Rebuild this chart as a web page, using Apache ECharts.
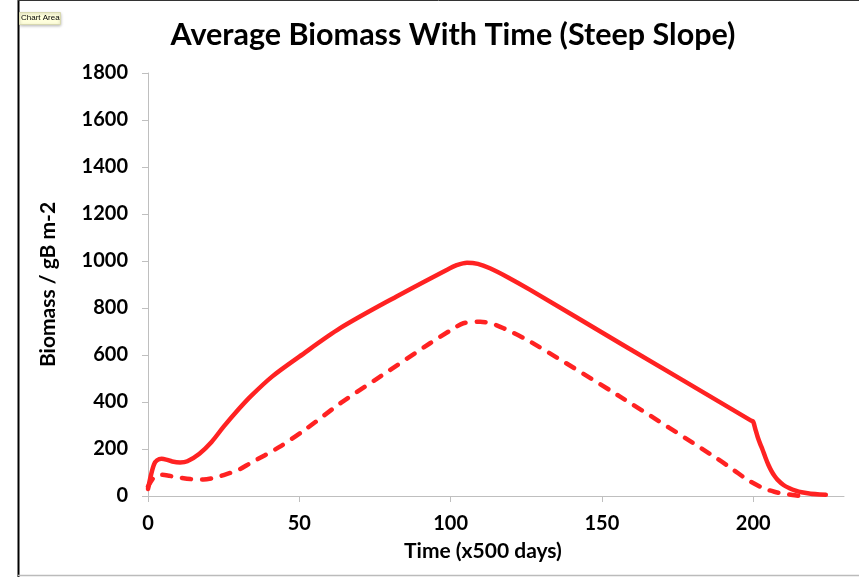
<!DOCTYPE html>
<html>
<head>
<meta charset="utf-8">
<script src="https://cdn.jsdelivr.net/npm/echarts@6/dist/echarts.min.js"></script>
<style>
html,body{margin:0;padding:0;background:#fff;}
#chart{width:859px;height:577px;}
</style>
</head>
<body>
<div id="chart"></div>
<script>
var titleText = 'Average Biomass With Time (Steep Slope)';
var xAxisName = 'Time (x500 days)';
var yAxisName = 'Biomass / gB m-2';
var xTicks = [0, 50, 100, 150, 200];
var yTicks = [0, 200, 400, 600, 800, 1000, 1200, 1400, 1600, 1800];

var solidX = [0, 1, 2, 3, 4.5, 6, 8, 10.6, 13, 17, 21, 25, 30, 34, 41, 50, 63.5, 82, 98.7, 102, 105.4, 109, 113, 119, 126.3, 156, 199.3, 200, 200.7, 201.5, 202.3, 203, 204, 205, 206, 207, 208, 210, 212, 214, 216, 219, 224];
var solidY = [30, 90, 135, 152, 158, 155, 147, 143, 148, 180, 230, 295, 370, 425, 508, 593, 714, 848, 962, 982, 993, 988, 969, 930, 877, 650, 321, 316, 285, 250, 222, 200, 165, 133, 107, 86, 70, 47, 33, 23, 16, 10, 5];

var dashX = [0, 1.5, 3, 4.5, 7, 10.6, 14, 18.3, 22, 25, 30, 33.7, 43.6, 52.5, 63.5, 76.7, 93.2, 100, 104.2, 109.8, 114, 117.5, 126.3, 156, 188, 193.5, 198, 203.4, 207, 210, 213, 216];
var dashY = [40, 72, 88, 90, 86, 78, 72, 70, 78, 89, 112, 139, 210, 288, 394, 508, 650, 705, 735, 742, 732, 714, 657, 423, 160, 111, 70, 33, 18, 10, 4, 0];

function pairs(xs, ys){ return xs.map(function(x,i){ return [x, ys[i]]; }); }

var red = '#ff2222';
var axisGray = '#bfbfbf';
var labelFont = {color:'#000', fontFamily:'Lato', fontWeight:'bold', fontSize:20};
function plain(v){ return String(v); }

var chart = echarts.init(document.getElementById('chart'), null, {renderer:'canvas'});
chart.setOption({
  animation:false,
  backgroundColor:'#fff',
  title:{
    text:titleText, left:453, top:20, textAlign:'center', padding:0,
    textStyle:{color:'#000', fontFamily:'Lato', fontWeight:'bold', fontSize:30.5}
  },
  grid:{left:148, right:15, top:73, bottom:81, containLabel:false},
  xAxis:{
    type:'value', min:0, max:230, interval:50,
    name:xAxisName, nameLocation:'middle', nameGap:45,
    nameTextStyle:{color:'#000', fontFamily:'Lato', fontWeight:'bold', fontSize:21, padding:[0,26,0,0]},
    axisLine:{show:true, lineStyle:{color:axisGray, width:1}},
    axisTick:{show:true, length:6, inside:false, customValues:xTicks, lineStyle:{color:axisGray}},
    axisLabel:Object.assign({margin:18, customValues:xTicks, formatter:plain}, labelFont),
    splitLine:{show:false}
  },
  yAxis:{
    type:'value', min:0, max:1800, interval:200,
    name:yAxisName, nameLocation:'middle', nameGap:89,
    nameTextStyle:{color:'#000', fontFamily:'Lato', fontWeight:'bold', fontSize:21},
    axisLine:{show:true, lineStyle:{color:axisGray, width:1}},
    axisTick:{show:true, length:6, inside:false, customValues:yTicks, lineStyle:{color:axisGray}},
    axisLabel:Object.assign({margin:20, customValues:yTicks, formatter:plain}, labelFont),
    splitLine:{show:false}
  },
  series:[
    {type:'line', data:pairs(solidX, solidY), showSymbol:false, symbol:'none', smooth:0.3,
     lineStyle:{color:red, width:4.5, cap:'round', join:'round'}},
    {type:'line', data:pairs(dashX, dashY), showSymbol:false, symbol:'none', smooth:0.3,
     lineStyle:{color:red, width:4.5, type:[9,11], cap:'round', join:'round'}}
  ],
  graphic:[
    {type:'line', shape:{x1:18.5, y1:0, x2:18.5, y2:577}, style:{stroke:'#000', lineWidth:2}, silent:true},
    {type:'line', shape:{x1:18, y1:0.5, x2:859, y2:0.5}, style:{stroke:'#333', lineWidth:1}, silent:true},
    {type:'line', shape:{x1:18, y1:575.5, x2:859, y2:575.5}, style:{stroke:'#bbb', lineWidth:1.5}, silent:true},
    {type:'rect', shape:{x:19.5, y:12.5, width:41, height:12}, style:{fill:'#ffffdc', stroke:'#d8d8b0', lineWidth:1, shadowBlur:3, shadowColor:'rgba(0,0,0,0.25)', shadowOffsetY:1}, silent:true},
    {type:'text', x:21, y:14, style:{text:'Chart Area', fill:'#000', font:'8px "Liberation Sans"'}, silent:true}
  ]
});
</script>
</body>
</html>
